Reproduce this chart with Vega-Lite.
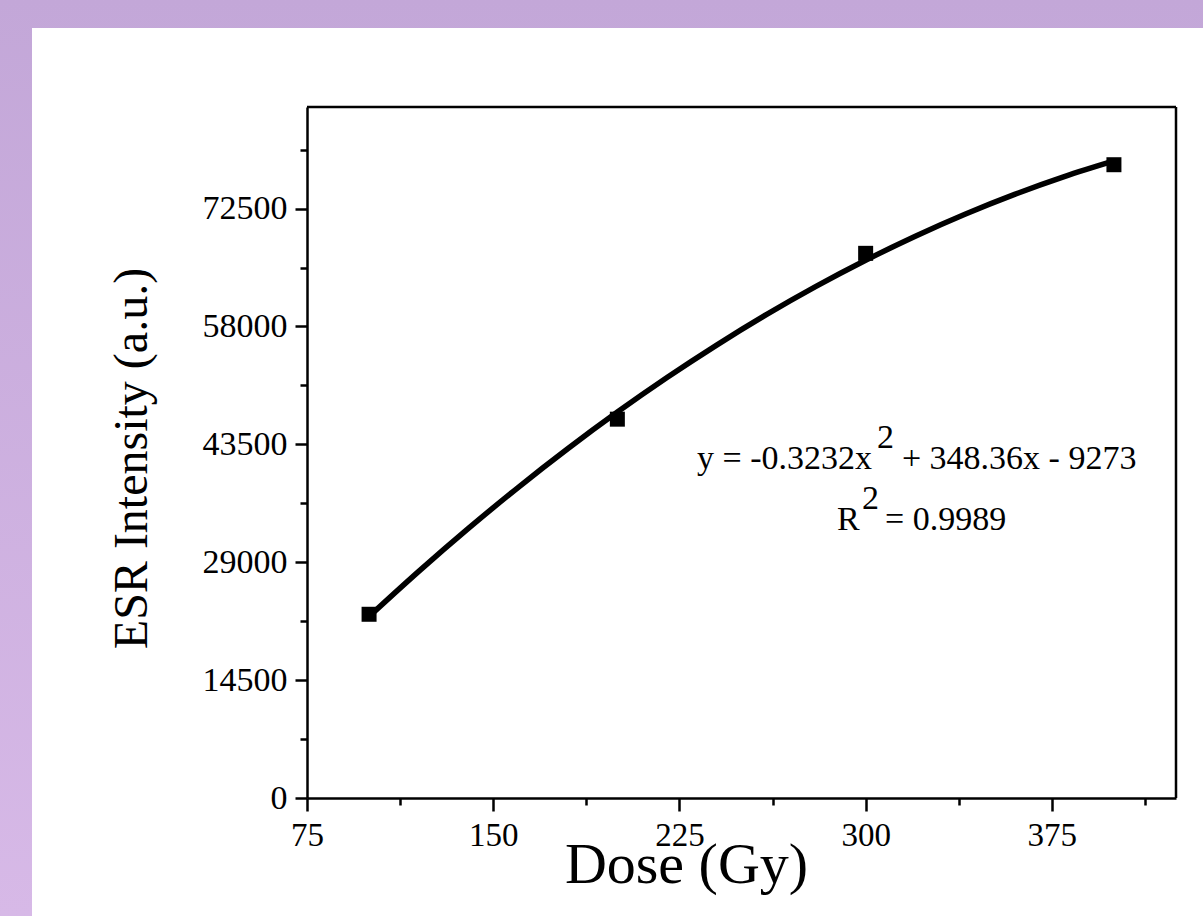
{
  "$schema": "https://vega.github.io/schema/vega-lite/v6.json",
  "width": 869,
  "height": 691,
  "autosize": {"type": "none"},
  "padding": {"left": 307, "top": 107, "right": 27, "bottom": 118},
  "background": "#c9acdd",
  "config": {
    "view": {"stroke": null},
    "font": "Liberation Serif"
  },
  "datasets": {
    "points": [
      {"dose": 100, "intensity": 22600},
      {"dose": 200, "intensity": 46600},
      {"dose": 300, "intensity": 67000},
      {"dose": 400, "intensity": 77900}
    ],
    "fit": [
      {"dose": 100, "intensity": 22331},
      {"dose": 120, "intensity": 27876},
      {"dose": 140, "intensity": 33163},
      {"dose": 160, "intensity": 38191},
      {"dose": 180, "intensity": 42960},
      {"dose": 200, "intensity": 47471},
      {"dose": 220, "intensity": 51723},
      {"dose": 240, "intensity": 55717},
      {"dose": 260, "intensity": 59452},
      {"dose": 280, "intensity": 62929},
      {"dose": 300, "intensity": 66147},
      {"dose": 320, "intensity": 69107},
      {"dose": 340, "intensity": 71808},
      {"dose": 360, "intensity": 74250},
      {"dose": 380, "intensity": 76435},
      {"dose": 400, "intensity": 78359}
    ],
    "notes": [
      {"dose": 232.1, "intensity": 40470, "label": "y = -0.3232x"},
      {"dose": 304.6, "intensity": 43054, "label": "2"},
      {"dose": 314.6, "intensity": 40470, "label": "+ 348.36x - 9273"},
      {"dose": 288.5, "intensity": 32967, "label": "R"},
      {"dose": 298.5, "intensity": 35550, "label": "2"},
      {"dose": 307.8, "intensity": 32967, "label": "= 0.9989"}
    ],
    "panel": [
      {"part": "panel"}
    ]
  },
  "layer": [
    {
      "data": {"name": "panel"},
      "mark": {
        "type": "rect",
        "clip": false,
        "fill": {
          "gradient": "linear",
          "x1": 0, "y1": 0, "x2": 0, "y2": 1,
          "stops": [
            {"offset": 0, "color": "#c3a7d8"},
            {"offset": 1, "color": "#d7b9e7"}
          ]
        }
      },
      "encoding": {
        "x": {"datum": -48.65, "type": "quantitative", "scale": {"domain": [75, 425], "nice": false, "zero": false}},
        "x2": {"datum": 435.9},
        "y": {"datum": 98162, "type": "quantitative", "scale": {"domain": [0, 85000], "nice": false, "zero": false}},
        "y2": {"datum": -14515}
      }
    },
    {
      "data": {"name": "panel"},
      "mark": {"type": "rect", "clip": false, "fill": "white"},
      "encoding": {
        "x": {"datum": -35.76, "type": "quantitative"},
        "x2": {"datum": 435.9},
        "y": {"datum": 94718, "type": "quantitative"},
        "y2": {"datum": -14515}
      }
    },
    {
      "data": {"name": "panel"},
      "mark": {"type": "rule", "color": "black", "strokeWidth": 2.5},
      "encoding": {
        "y": {"datum": 85000, "type": "quantitative"}
      }
    },
    {
      "data": {"name": "panel"},
      "mark": {"type": "rule", "color": "black", "strokeWidth": 2.5},
      "encoding": {
        "x": {"datum": 425, "type": "quantitative"}
      }
    },
    {
      "data": {"name": "fit"},
      "mark": {"type": "line", "color": "black", "strokeWidth": 5.5, "interpolate": "monotone"},
      "encoding": {
        "x": {
          "field": "dose",
          "type": "quantitative",
          "axis": {
            "title": "Dose (Gy)",
            "values": [75, 112.5, 150, 187.5, 225, 262.5, 300, 337.5, 375, 412.5],
            "labelExpr": "datum.value % 75 === 0 ? datum.label : ''",
            "format": "d",
            "tickSize": {"condition": {"test": "datum.value % 75 === 0", "value": 13}, "value": 7},
            "tickWidth": 2.5,
            "tickColor": "black",
            "domainColor": "black",
            "domainWidth": 2.5,
            "labelFontSize": 33,
            "labelColor": "black",
            "labelPadding": 8,
            "labelFlush": false,
            "labelOverlap": false,
            "titleFontSize": 58,
            "titleFontWeight": "normal",
            "titleColor": "black",
            "titleX": 379,
            "titleY": 84,
            "titleBaseline": "alphabetic",
            "grid": false,
            "zindex": 1
          }
        },
        "y": {
          "field": "intensity",
          "type": "quantitative",
          "axis": {
            "title": "ESR Intensity (a.u.)",
            "values": [0, 7250, 14500, 21750, 29000, 36250, 43500, 50750, 58000, 65250, 72500, 79750],
            "labelExpr": "datum.value % 14500 === 0 ? datum.label : ''",
            "format": "d",
            "tickSize": {"condition": {"test": "datum.value % 14500 === 0", "value": 12}, "value": 7},
            "tickWidth": 2.5,
            "tickColor": "black",
            "domainColor": "black",
            "domainWidth": 2.5,
            "labelFontSize": 34,
            "labelColor": "black",
            "labelPadding": 8,
            "labelFlush": false,
            "labelOverlap": false,
            "titleFontSize": 48,
            "titleFontWeight": "normal",
            "titleColor": "black",
            "titleAngle": -90,
            "titleX": -161,
            "titleY": 351,
            "titleAlign": "center",
            "titleBaseline": "alphabetic",
            "grid": false,
            "zindex": 1
          }
        }
      }
    },
    {
      "data": {"name": "points"},
      "mark": {"type": "point", "shape": "square", "filled": true, "color": "black", "opacity": 1, "size": 225},
      "encoding": {
        "x": {"field": "dose", "type": "quantitative"},
        "y": {"field": "intensity", "type": "quantitative"}
      }
    },
    {
      "data": {"name": "notes"},
      "mark": {"type": "text", "align": "left", "baseline": "alphabetic", "fontSize": 34, "color": "black", "font": "Liberation Serif"},
      "encoding": {
        "x": {"field": "dose", "type": "quantitative"},
        "y": {"field": "intensity", "type": "quantitative"},
        "text": {"field": "label"}
      }
    }
  ]
}
